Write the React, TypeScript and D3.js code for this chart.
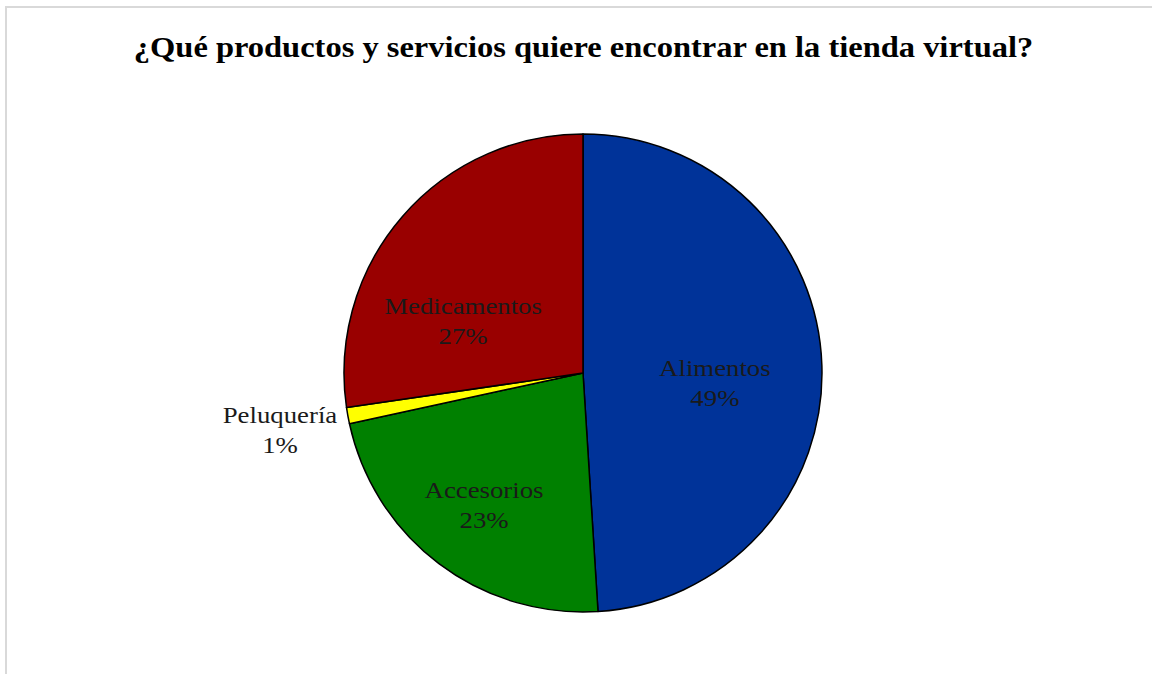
import React from "react";
import * as d3 from "d3";

const categories = ["Alimentos", "Accesorios", "Peluquería", "Medicamentos"];
const values = [49.0, 22.6, 1.1, 27.3];
const colors = ["#003399", "#008000", "#FFFF00", "#990000"];
const title = "¿Qué productos y servicios quiere encontrar en la tienda virtual?";

// label placement (polar: angle offset in degrees from slice middle, radius as fraction of pie radius) -> first baseline
const labelLayout: Record<string, { dAngle: number; rFrac: number }> = {
  Alimentos: { dAngle: 3.1, rFrac: 0.552 },
  Accesorios: { dAngle: 1.3, rFrac: 0.667 },
  Peluquería: { dAngle: 0.9, rFrac: 1.285 },
  Medicamentos: { dAngle: -14.7, rFrac: 0.559 },
};

const FONT = "'Liberation Serif', 'Times New Roman', serif";
const SX = 1.14;

export default function App() {
  const W = 1152, H = 674;
  const cx = 583, cy = 373, r = 239;
  const data = categories.map((c, i) => ({ c, v: values[i], col: colors[i] }));
  const pie = d3.pie<any>().value((d) => d.v).sort(null).startAngle(0).endAngle(2 * Math.PI);
  const arcs = pie(data);
  const arc = d3.arc<any>().innerRadius(0).outerRadius(r);
  const total = d3.sum(values);
  return (
    <svg width={W} height={H} style={{ position: "absolute", left: 0, top: 0 }}>
      <rect x={0} y={0} width={W} height={H} fill="#fff" />
      <rect x={6} y={7} width={W + 10} height={H + 10} fill="none" stroke="#d9d9d9" strokeWidth={2} />
      <text transform={`translate(583.5,57) scale(${SX},1)`} x={0} y={0} textAnchor="middle" fontFamily={FONT} fontWeight="bold" fontSize={28.5} fill="#000">
        {title}
      </text>
      <g transform={`translate(${cx},${cy})`}>
        {arcs.map((a, i) => (
          <path key={i} d={arc(a) as string} fill={a.data.col} stroke="#000" strokeWidth={1.5} strokeLinejoin="round" />
        ))}
        {arcs.map((a, i) => {
          const L = labelLayout[a.data.c];
          const mid = (a.startAngle + a.endAngle) / 2 + (L.dAngle * Math.PI) / 180;
          const lr = r * L.rFrac;
          const x = Math.sin(mid) * lr;
          const y = -Math.cos(mid) * lr;
          const pct = Math.round((a.data.v / total) * 100) + "%";
          return (
            <text key={"l" + i} transform={`translate(${x},${y}) scale(${SX},1)`} textAnchor="middle" fontFamily={FONT} fontSize={23.5} fill="#1a1a1a">
              <tspan x={0} y={0}>{a.data.c}</tspan>
              <tspan x={0} y={30}>{pct}</tspan>
            </text>
          );
        })}
      </g>
    </svg>
  );
}
